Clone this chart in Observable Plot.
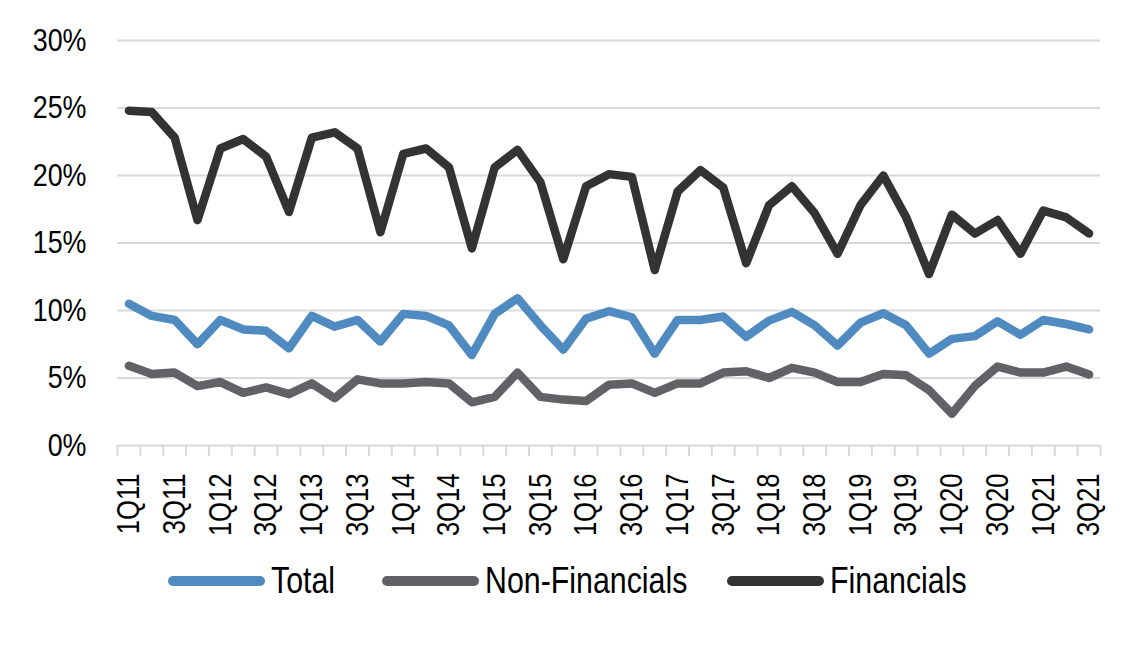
<!DOCTYPE html>
<html>
<head>
<meta charset="utf-8">
<script src="https://cdn.jsdelivr.net/npm/d3@7"></script>
<script src="https://cdn.jsdelivr.net/npm/@observablehq/plot@0.6"></script>
<style>
  body { margin: 0; background: #fff; }
  #wrap { position: relative; width: 1124px; height: 646px; font-family: "Liberation Sans", Arial, sans-serif; }
  #legend { position: absolute; left: 0; top: 559px; width: 1124px; height: 44px; }
  .sw { position: absolute; top: 17px; width: 97px; height: 10px; border-radius: 5px; }
  .lt { position: absolute; top: 0; height: 44px; line-height: 44px; font-size: 37px; color: #000; transform: scaleX(0.82); transform-origin: 0 50%; white-space: nowrap; }
</style>
</head>
<body>
<div id="wrap">
  <div id="chart"></div>
  <div id="legend"></div>
</div>
<script>
const quarters = [
  "1Q11","2Q11","3Q11","4Q11","1Q12","2Q12","3Q12","4Q12","1Q13","2Q13","3Q13","4Q13",
  "1Q14","2Q14","3Q14","4Q14","1Q15","2Q15","3Q15","4Q15","1Q16","2Q16","3Q16","4Q16",
  "1Q17","2Q17","3Q17","4Q17","1Q18","2Q18","3Q18","4Q18","1Q19","2Q19","3Q19","4Q19",
  "1Q20","2Q20","3Q20","4Q20","1Q21","2Q21","3Q21"
];
const total = [10.5,9.6,9.3,7.5,9.3,8.6,8.5,7.2,9.6,8.8, 9.3,7.7,9.75,9.6,8.9,6.7,9.75,10.9,8.9,7.1,
  9.4,9.95,9.5,6.8,9.3,9.3,9.55,8.05,9.25,9.9, 8.9,7.4,9.1,9.8,8.9,6.8,7.9,8.1,9.2,8.2, 9.3,9.0,8.6];
const nonFinancials = [5.9,5.3,5.4,4.4,4.7,3.9,4.3,3.8,4.6,3.5, 4.9,4.6,4.6,4.7,4.6,3.2,3.6,5.4,3.6,3.4,
  3.3,4.5,4.6,3.9,4.6,4.6,5.4,5.5,5.0,5.75, 5.4,4.7,4.7,5.3,5.2,4.1,2.35,4.4,5.85,5.4, 5.4,5.85,5.26];
const financials = [24.8,24.7,22.8,16.7,22.0,22.7,21.4,17.3,22.8,23.2, 22.0,15.8,21.6,22.0,20.6,14.6,20.6,21.9,19.5,13.8,
  19.2,20.1,19.9,13.0,18.8,20.4,19.1,13.5,17.8,19.2, 17.2,14.2,17.8,20.0,16.9,12.7,17.1,15.7,16.7,14.2, 17.4,16.9,15.7];
const yTicks = [0,5,10,15,20,25,30];
const seriesNames = ["Total","Non-Financials","Financials"];
const seriesColors = ["#4f8bc0","#626266","#333333"];
const seriesValues = [total, nonFinancials, financials];

const rows = [];
seriesNames.forEach((name, s) => {
  seriesValues[s].forEach((v, i) => rows.push({series: name, idx: i + 0.5, value: v}));
});
const boundaries = d3.range(quarters.length + 1);
const labelTicks = quarters.map((q, i) => i).filter(i => i % 2 === 0).map(i => i + 0.5);

const chart = Plot.plot({
  width: 1124,
  height: 546,
  marginLeft: 117,
  marginRight: 24,
  marginTop: 40,
  marginBottom: 101,
  x: {type: "linear", domain: [0, quarters.length]},
  y: {domain: [0, 30]},
  color: {domain: seriesNames, range: seriesColors},
  style: {fontFamily: '"Liberation Sans", Arial, sans-serif', color: "#000", background: "#fff"},
  marks: [
    Plot.ruleY(yTicks, {stroke: "#d9d9d9", strokeWidth: 2, strokeOpacity: 1}),
    Plot.axisX(boundaries, {tickSize: 11, stroke: "#d9d9d9", strokeWidth: 2, strokeOpacity: 1, tickFormat: () => "", label: null}),
    Plot.axisX(labelTicks, {tickSize: 0, tickPadding: 28, tickRotate: -90, fontSize: 32, tickFormat: d => quarters[d - 0.5], label: null, fill: "#000"}),
    Plot.axisY(yTicks, {tickSize: 0, tickPadding: 31, fontSize: 32, tickFormat: d => d + "%", label: null, fill: "#000"}),
    Plot.line(rows, {x: "idx", y: "value", z: "series", stroke: "series", strokeWidth: 8.5, strokeLinejoin: "round", strokeLinecap: "round"})
  ]
});
// condense text horizontally (narrow typeface look), scaling about each text's own anchor
d3.select(chart).selectAll("text").each(function() {
  let x = parseFloat(this.getAttribute("x"));
  if (!isFinite(x)) x = 0;
  const t = this.getAttribute("transform") || "";
  const k = /rotate/.test(t) ? 0.8 : 0.84;
  this.setAttribute("transform", `${t} translate(${x},0) scale(${k},1) translate(${-x},0)`.trim());
});
document.getElementById("chart").appendChild(chart);

const swatchPos = [168, 382, 727];
const legend = document.getElementById("legend");
seriesNames.forEach((name, s) => {
  const sw = document.createElement("div");
  sw.className = "sw";
  sw.style.left = swatchPos[s] + "px";
  sw.style.background = seriesColors[s];
  const t = document.createElement("div");
  t.className = "lt";
  t.style.left = (swatchPos[s] + 103) + "px";
  t.textContent = name;
  legend.appendChild(sw);
  legend.appendChild(t);
});
</script>
</body>
</html>
